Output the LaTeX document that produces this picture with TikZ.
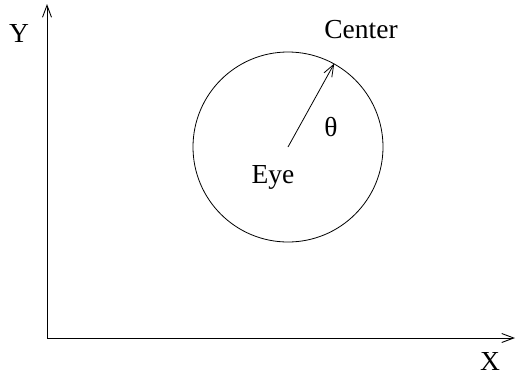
\documentclass[tikz,border=0pt]{standalone}
\usepackage{fontspec}
\setmainfont{Liberation Serif}
\usetikzlibrary{arrows.meta,positioning,calc}

\begin{document}
\begin{tikzpicture}[
  x=1pt, y=-1pt,
  lbl/.style={font=\fontsize{27.5}{30}\selectfont, inner sep=0pt},
  axis/.style={-{Straight Barb[length=12pt,width=9pt]}, line width=0.9pt},
  ray/.style={-{Straight Barb[length=12pt,width=9pt]}, line width=0.8pt},
]
  \useasboundingbox (0,0) rectangle (517,381);

  % Axes
  \coordinate (origin) at (47,338);
  \coordinate (ytip) at (47,4);
  \coordinate (xtip) at (515,338);
  \draw[axis] (origin) -- (ytip);
  \draw[axis] (origin) -- (xtip);
  \node[lbl] (ylbl) at (19,33) {Y};
  \node[lbl] (xlbl) at (490,361) {X};

  % Viewing circle around the eye
  \node[circle, draw, line width=0.8pt, minimum size=190pt, inner sep=0pt] (view) at (288,147) {};
  \draw[ray] (view.center) -- (view.61);

  % Labels
  \node[lbl] (eye) at (273,177) {Eye};
  \node[lbl] (theta) at (331,127) {θ};
  \node[lbl] (center) at (361,30) {Center};

\end{tikzpicture}
\end{document}
